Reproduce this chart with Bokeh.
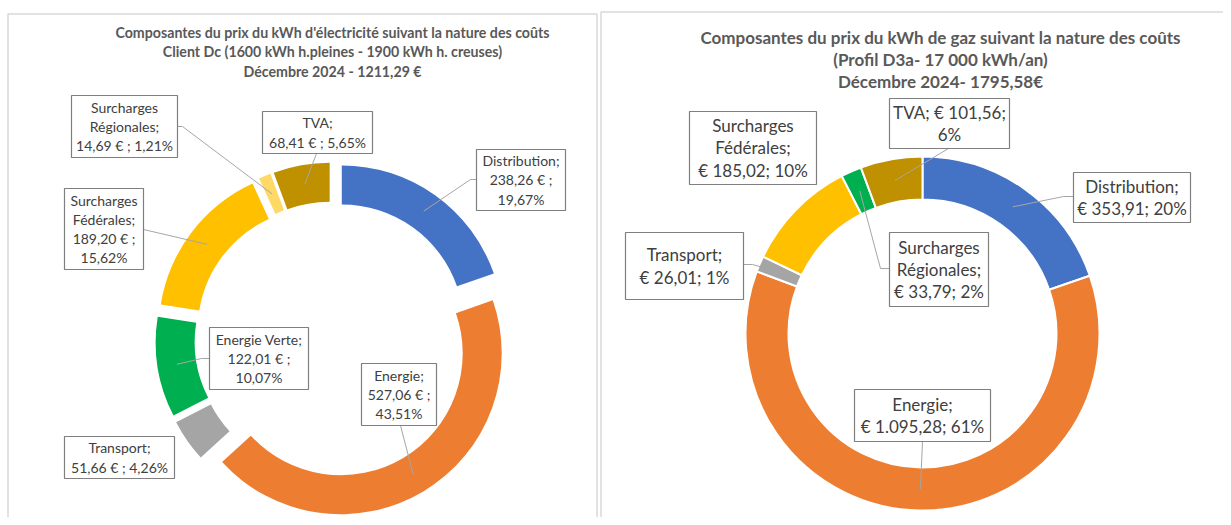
import numpy as np
from bokeh.plotting import figure
from bokeh.models import Range1d, ColumnDataSource
from bokeh.core.properties import value
from bokeh.embed import file_html
from bokeh.resources import INLINE

# ---------------- data ----------------
elec_title = ["Composantes du prix du kWh d'électricité suivant la nature des coûts",
              "Client Dc (1600 kWh h.pleines - 1900 kWh h. creuses)",
              "Décembre 2024 - 1211,29 €"]
elec_categories = ["Distribution", "Energie", "Transport", "Energie Verte",
                   "Surcharges Fédérales", "Surcharges Régionales", "TVA"]
elec_values = [238.26, 527.06, 51.66, 122.01, 189.20, 14.69, 68.41]
elec_labels = ["Distribution;\n238,26 € ;\n19,67%",
               "Energie;\n527,06 € ;\n43,51%",
               "Transport;\n51,66 € ; 4,26%",
               "Energie Verte;\n122,01 € ;\n10,07%",
               "Surcharges\nFédérales;\n189,20 € ;\n15,62%",
               "Surcharges\nRégionales;\n14,69 € ; 1,21%",
               "TVA;\n68,41 € ; 5,65%"]
elec_colors = ["#4472C4", "#ED7D31", "#A5A5A5", "#00B050", "#FFC000", "#FFD966", "#BF9000"]

gas_title = ["Composantes du prix du kWh de gaz suivant la nature des coûts",
             "(Profil D3a- 17 000 kWh/an)",
             "Décembre 2024- 1795,58€"]
gas_categories = ["Distribution", "Energie", "Transport",
                  "Surcharges Fédérales", "Surcharges Régionales", "TVA"]
gas_values = [353.91, 1095.28, 26.01, 185.02, 33.79, 101.56]
gas_labels = ["Distribution;\n€ 353,91; 20%",
              "Energie;\n€ 1.095,28; 61%",
              "Transport;\n€ 26,01; 1%",
              "Surcharges\nFédérales;\n€ 185,02; 10%",
              "Surcharges\nRégionales;\n€ 33,79; 2%",
              "TVA; € 101,56;\n6%"]
gas_colors = ["#4472C4", "#ED7D31", "#A5A5A5", "#FFC000", "#00B050", "#BF9000"]

# ---------------- layout (screen px) ----------------
elec_boxes = [(476, 149, 565, 210), (361, 363, 436, 425), (64, 436, 174, 478),
              (209, 327, 308, 389), (64, 188, 143, 269), (71, 95, 177, 157),
              (262, 111, 372, 153)]
elec_leaders = [[(476, 179), (470, 179)], [(400, 425)], None,
                [(209, 358), (201, 358)], [(143, 229)], [(177, 126), (182, 126)],
                [(316, 153)]]
gas_boxes = [(1073, 172, 1190, 222), (854, 389, 990, 441), (625, 232, 743, 299),
             (689, 111, 816, 184), (889, 232, 988, 306), (889, 98, 1009, 148)]
gas_leaders = [[(1073, 196), (1063, 196)], [(922, 441)], [(743, 264), (752, 264)],
               None, [(889, 268), (880, 268)], [(948, 148)]]

W, H = 1223, 517
p = figure(width=W, height=H, output_backend="svg", toolbar_location=None,
           x_range=Range1d(0, W), y_range=Range1d(-H, 0),
           min_border=0, outline_line_color=None)
p.axis.visible = False
p.grid.visible = False
p.background_fill_color = "white"
p.border_fill_color = "white"

# panel borders
p.multi_line(xs=[[7.5, 7.5, 596.5, 596.5], [600.5, 600.5, 1240]],
             ys=[[-530, -13.5, -13.5, -530], [-530, -11.5, -11.5]],
             line_color="#D9D9D9", line_width=1.5)


def donut(cx, cy, R, r_in, values, colors, explode, sep, labels, boxes, leaders, fs, lh):
    vals = np.array(values, dtype=float)
    frac = vals / vals.sum()
    c1 = np.cumsum(frac)
    c0 = c1 - frac
    start = np.pi / 2 - 2 * np.pi * c1
    end = np.pi / 2 - 2 * np.pi * c0
    mid = (start + end) / 2
    xs = cx + explode * np.cos(mid)
    ys = -cy + explode * np.sin(mid)
    src = ColumnDataSource(dict(x=xs, y=ys, s=start, e=end, c=colors))
    p.annular_wedge(x="x", y="y", inner_radius=r_in, outer_radius=R,
                    start_angle="s", end_angle="e", direction="anticlock",
                    fill_color="c", line_color="white" if sep else None,
                    line_width=2 if sep else 0, source=src)
    rm = (R + r_in) / 2
    lxs, lys = [], []
    for i, ld in enumerate(leaders):
        if ld is None:
            continue
        ax = xs[i] + rm * np.cos(mid[i])
        ay = ys[i] + rm * np.sin(mid[i])
        lxs.append([pt[0] for pt in ld] + [ax])
        lys.append([-pt[1] for pt in ld] + [ay])
    p.multi_line(xs=lxs, ys=lys, line_color="#A6A6A6", line_width=1)
    p.quad(left=[b[0] for b in boxes], right=[b[2] for b in boxes],
           top=[-b[1] for b in boxes], bottom=[-b[3] for b in boxes],
           fill_color="white", line_color="#7F7F7F", line_width=1.2)
    p.text(x=[(b[0] + b[2]) / 2 for b in boxes], y=[-(b[1] + b[3]) / 2 for b in boxes],
           text=labels, text_align="center", text_baseline="middle",
           text_font=value("Lato"), text_font_size=fs, text_color="#404040",
           text_line_height=lh)


donut(332, 339, 161, 122, elec_values, elec_colors, 16, False,
      elec_labels, elec_boxes, elec_leaders, "14px", 1.13)
donut(922, 333, 177, 134, gas_values, gas_colors, 0, True,
      gas_labels, gas_boxes, gas_leaders, "17px", 1.07)

# titles
p.text(x=[332] * 3, y=[-32, -51, -71], text=elec_title, text_align="center",
       text_baseline="middle", text_font=value("Lato"), text_font_style="bold",
       text_font_size="14.2px", text_color="#595959")
p.text(x=[940] * 3, y=[-37, -59, -81], text=gas_title, text_align="center",
       text_baseline="middle", text_font=value("Lato"), text_font_style="bold",
       text_font_size="17px", text_color="#595959")

open("out.html", "w").write(file_html(p, INLINE))
